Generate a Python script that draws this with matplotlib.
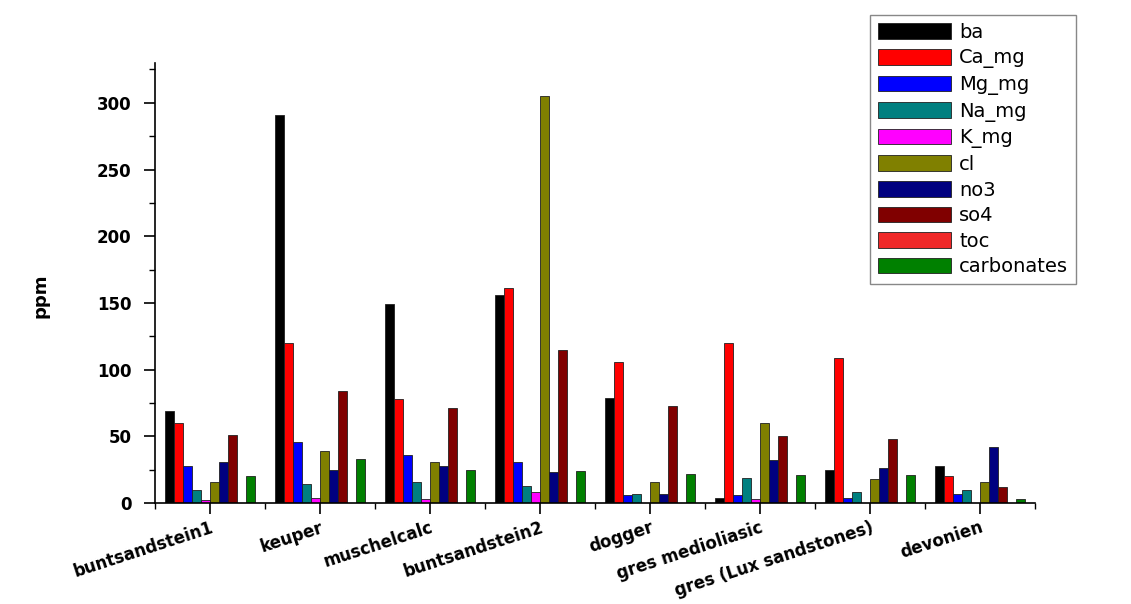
import numpy as np
import matplotlib.pyplot as plt
from matplotlib.ticker import MultipleLocator, FixedLocator

plt.rcParams['font.family'] = ['DejaVu Sans']

# categories and series
categories = ['buntsandstein1', 'keuper', 'muschelcalc', 'buntsandstein2',
              'dogger', 'gres medioliasic', 'gres (Lux sandstones)', 'devonien']
series = ['ba', 'Ca_mg', 'Mg_mg', 'Na_mg', 'K_mg', 'cl', 'no3', 'so4', 'toc', 'carbonates']

ba         = [69, 291, 149, 156, 79, 4, 25, 28]
Ca_mg      = [60, 120, 78, 161, 106, 120, 109, 20]
Mg_mg      = [28, 46, 36, 31, 6, 6, 4, 7]
Na_mg      = [10, 14, 16, 13, 7, 19, 8, 10]
K_mg       = [2, 4, 3, 8, 0, 3, 0, 0]
cl         = [16, 39, 31, 305, 16, 60, 18, 16]
no3        = [31, 25, 28, 23, 7, 32, 26, 42]
so4        = [51, 84, 71, 115, 73, 50, 48, 12]
toc        = [0, 0, 0, 0, 0, 0, 0, 0]
carbonates = [20, 33, 25, 24, 22, 21, 21, 3]

values = [ba, Ca_mg, Mg_mg, Na_mg, K_mg, cl, no3, so4, toc, carbonates]
colors = ['#000000', '#ff0000', '#0000ff', '#008080', '#ff00ff',
          '#808000', '#000080', '#800000', '#f02828', '#008000']

fig = plt.figure(figsize=(11.31, 6.04), dpi=100)
ax = fig.add_axes([0.137, 0.167, 0.778, 0.729])

x = np.arange(1, len(categories) + 1)
w = 0.082
for i, (name, vals, c) in enumerate(zip(series, values, colors)):
    ax.bar(x + (i - 4.5) * w, vals, width=w, color=c, edgecolor='#202020',
           linewidth=0.6, label=name)

ax.set_xlim(0.5, 8.5)
ax.set_ylim(0, 330)

# y axis
ax.yaxis.set_major_locator(MultipleLocator(50))
ax.yaxis.set_minor_locator(MultipleLocator(25))
ax.set_ylabel('ppm', fontsize=13, fontweight='bold')
ax.yaxis.set_label_coords(-0.12, 0.47)
for lab in ax.get_yticklabels():
    lab.set_fontweight('bold')
    lab.set_fontsize(12)

# x axis
ax.set_xticks(x)
ax.xaxis.set_minor_locator(FixedLocator(np.arange(0.5, 9, 1)))
ax.set_xticklabels(categories, rotation=18, ha='right', rotation_mode='anchor',
                   fontsize=12, fontweight='bold')

ax.tick_params(axis='both', which='major', direction='out', length=8, width=1.2)
ax.tick_params(axis='both', which='minor', direction='out', length=4, width=1)
ax.tick_params(axis='x', which='major', pad=3)
ax.tick_params(axis='y', which='major', pad=9)

for s in ['top', 'right']:
    ax.spines[s].set_visible(False)
for s in ['left', 'bottom']:
    ax.spines[s].set_linewidth(1.2)

fig.legend(loc='upper left', bbox_to_anchor=(0.769, 0.975), fontsize=14,
           fancybox=False, edgecolor='#888888', framealpha=1,
           handlelength=3.8, handleheight=0.85, labelspacing=0.34,
           handletextpad=0.4, borderpad=0.4, borderaxespad=0)

fig.savefig('out.png', dpi=100)
